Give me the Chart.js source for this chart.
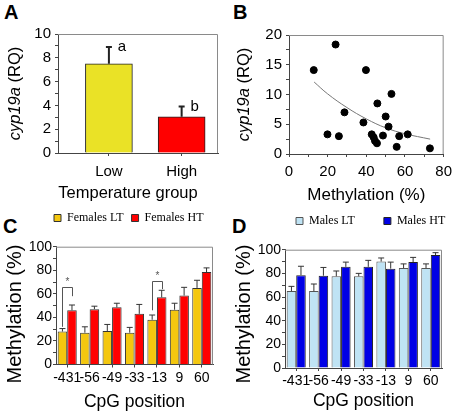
<!DOCTYPE html>
<html>
<head>
<meta charset="utf-8">
<script src="https://cdn.jsdelivr.net/npm/chart.js@4.4.1/dist/chart.umd.min.js"></script>
<style>
  html, body { margin: 0; padding: 0; background: #fff; overflow: hidden; }
  body { width: 458px; height: 418px; position: relative; }
  canvas { position: absolute; }
  .tag { position: absolute; font: bold 20px/20px 'Liberation Sans', Arial, sans-serif; color: #000; }
</style>
</head>
<body>
<div class="tag" style="left:4px;top:2px">A</div>
<div class="tag" style="left:233px;top:2px">B</div>
<div class="tag" style="left:3px;top:216px">C</div>
<div class="tag" style="left:232px;top:216px">D</div>
<canvas id="chartA" width="229" height="209" style="left:0;top:0"></canvas>
<canvas id="chartB" width="229" height="209" style="left:229px;top:0"></canvas>
<canvas id="chartC" width="229" height="209" style="left:0;top:209px"></canvas>
<canvas id="chartD" width="229" height="209" style="left:229px;top:209px"></canvas>
<script>
// A: cyp19a expression per temperature group (mean, SE)
const tempGroups = ['Low', 'High'];
const rqMean = [7.5, 3.05];
const rqSe = [1.4, 0.85];
const rqLetters = ['a', 'b'];

// B: cyp19a vs promoter methylation, one point per fish
const methPct = [12.8, 24.1, 39.8, 28.7, 38.5, 19.9, 25.8, 53.0, 45.7, 50.0,
                 51.5, 42.8, 43.8, 44.5, 45.5, 48.6, 57.0, 61.4, 55.7, 72.9];
const methRq = [14.1, 18.4, 14.1, 7.0, 5.3, 3.3, 3.0, 10.1, 8.5, 6.3,
                4.6, 3.3, 2.8, 2.2, 1.8, 3.1, 3.0, 3.3, 1.2, 0.95];
// fitted curve
const fitX = [13, 20, 30, 40, 50, 60, 73];
const fitY = [12.1, 10.1, 7.8, 5.9, 4.4, 3.4, 2.5];

// C / D: methylation per CpG site (mean, SE)
const cpgSites = ['-431', '-56', '-49', '-33', '-13', '9', '60'];
const femLT = [28, 27, 28.5, 27, 38, 46.5, 65];
const femLTSe = [2.5, 5, 5.5, 4.5, 4, 5.5, 6.5];
const femHT = [46, 47, 48.5, 43, 57, 58.5, 78.5];
const femHTSe = [4.5, 2.5, 3.5, 8, 6, 7, 3.5];
const maleLT = [65, 65, 77.5, 77.5, 90, 84.5, 84.5];
const maleLTSe = [4, 6, 4.5, 2.5, 3, 3.5, 3.5];
const maleHT = [78.5, 78, 85.5, 85.5, 84, 89.5, 95.5];
const maleHTSe = [7.5, 7, 4, 5.5, 5.5, 4, 2];

// significance brackets in C (site index, leg ends and top in %)
const sigSites = [0, 4];
const sigLegLT = [32, 46];
const sigLegHT = [58, 64];
const sigTop = [65.5, 71];

const SANS = "'Liberation Sans', Arial, sans-serif";
const SERIF = "'Liberation Serif', 'Times New Roman', serif";
Chart.defaults.font.family = SANS;
Chart.defaults.color = '#000';

const tickGrid = { display: true, drawOnChartArea: false, drawTicks: true, tickLength: 3, color: '#444', offset: false };
const axisBorder = { display: true, color: '#444', width: 1 };

// upward-only error bars, SE array kept on the dataset as `errors`
const errorBars = {
  id: 'errorBars',
  afterDatasetsDraw(chart, args, opts) {
    const ctx = chart.ctx;
    const ys = chart.scales.y;
    chart.data.datasets.forEach((ds, i) => {
      if (!ds.errors) return;
      const meta = chart.getDatasetMeta(i);
      ctx.save();
      ctx.strokeStyle = opts.color;
      ctx.lineWidth = opts.width;
      meta.data.forEach((bar, j) => {
        const v = meta.controller.getParsed(j).y;
        const top = ys.getPixelForValue(v + ds.errors[j]);
        ctx.beginPath();
        ctx.moveTo(bar.x, bar.y);
        ctx.lineTo(bar.x, top);
        ctx.moveTo(bar.x - opts.cap, top);
        ctx.lineTo(bar.x + opts.cap, top);
        ctx.stroke();
      });
      ctx.restore();
    });
  }
};

// top and right edges of the plot box
const frame = {
  id: 'frame',
  afterDatasetsDraw(chart) {
    const { ctx, chartArea: a } = chart;
    ctx.save();
    ctx.strokeStyle = '#8a8a8a';
    ctx.lineWidth = 1;
    ctx.beginPath();
    ctx.moveTo(a.left, a.top + 0.5);
    ctx.lineTo(a.right - 0.5, a.top + 0.5);
    ctx.lineTo(a.right - 0.5, a.bottom);
    ctx.stroke();
    ctx.restore();
  }
};

// axis titles with mixed italic / upright parts
function axisText(items) {
  return {
    id: 'axisText',
    afterDraw(chart) {
      const ctx = chart.ctx;
      items.forEach(it => {
        ctx.save();
        ctx.translate(it.x, it.y);
        if (it.rot) ctx.rotate(it.rot);
        ctx.fillStyle = '#000';
        ctx.textBaseline = 'middle';
        ctx.textAlign = 'left';
        const fonts = it.parts.map(p => (p.italic ? 'italic ' : '') + it.size + 'px ' + SANS);
        const widths = it.parts.map((p, k) => { ctx.font = fonts[k]; return ctx.measureText(p.text).width; });
        let x = -widths.reduce((s, w) => s + w, 0) / 2;
        it.parts.forEach((p, k) => {
          ctx.font = fonts[k];
          ctx.fillText(p.text, x, 0);
          x += widths[k];
        });
        ctx.restore();
      });
    }
  };
}

// move the legend row so the first box starts at (x, y)
function placeLegend(x, y) {
  return {
    id: 'placeLegend',
    afterLayout(chart) {
      const lg = chart.legend;
      const pad = lg.options.labels.padding;
      const w = lg.right - lg.left;
      lg.left = x - pad; lg.right = lg.left + w;
      lg.top = y - pad; lg.bottom = y + 24;
    }
  };
}

// letters a / b next to the error bars in A
const barLetters = {
  id: 'barLetters',
  afterDatasetsDraw(chart) {
    const ctx = chart.ctx;
    const meta = chart.getDatasetMeta(0);
    ctx.save();
    ctx.font = '15px ' + SANS;
    ctx.fillStyle = '#000';
    ctx.textAlign = 'center';
    ctx.textBaseline = 'middle';
    meta.data.forEach((bar, j) => {
      const y = chart.scales.y.getPixelForValue(rqMean[j] + rqSe[j]);
      ctx.fillText(rqLetters[j], bar.x + 13, y);
    });
    ctx.restore();
  }
};

// significance brackets and asterisks in C
const brackets = {
  id: 'brackets',
  afterDatasetsDraw(chart) {
    const ctx = chart.ctx;
    const ys = chart.scales.y;
    const lt = chart.getDatasetMeta(0).data;
    const ht = chart.getDatasetMeta(1).data;
    ctx.save();
    ctx.strokeStyle = '#555';
    ctx.fillStyle = '#555';
    ctx.lineWidth = 1;
    ctx.font = '10px ' + SANS;
    ctx.textAlign = 'center';
    ctx.textBaseline = 'middle';
    sigSites.forEach((s, k) => {
      const x1 = Math.round(lt[s].x) + 0.5, x2 = Math.round(ht[s].x) + 0.5;
      const top = Math.round(ys.getPixelForValue(sigTop[k])) + 0.5;
      ctx.beginPath();
      ctx.moveTo(x1, ys.getPixelForValue(sigLegLT[k]));
      ctx.lineTo(x1, top);
      ctx.lineTo(x2, top);
      ctx.lineTo(x2, ys.getPixelForValue(sigLegHT[k]));
      ctx.stroke();
      ctx.fillText('*', (x1 + x2) / 2, top - 5);
    });
    ctx.restore();
  }
};

function yTicks(step, size, pad) {
  return { stepSize: step / 2, autoSkip: false, font: { size }, padding: pad,
    callback: v => (v % step === 0 ? v : '') };
}

// ---- A ----
new Chart(document.getElementById('chartA'), {
  type: 'bar',
  data: {
    datasets: [{
      data: tempGroups.map((g, i) => ({ x: i, y: rqMean[i] })),
      errors: rqSe,
      backgroundColor: ['#EAE226', '#FF0000'],
      borderColor: '#222',
      borderWidth: 1,
      barThickness: 47
    }]
  },
  options: {
    responsive: false,
    animation: false,
    layout: { padding: { top: 34, right: 11, left: 0, bottom: 0 } },
    plugins: {
      legend: { display: false },
      tooltip: { enabled: false },
      errorBars: { color: '#222', width: 2, cap: 3 }
    },
    scales: {
      x: {
        type: 'linear', min: -0.7, max: 1.5, offset: false,
        grid: tickGrid, border: axisBorder,
        afterBuildTicks: s => { s.ticks = tempGroups.map((g, i) => ({ value: i })); },
        ticks: { callback: v => tempGroups[v], font: { size: 15 }, padding: 7, maxRotation: 0 },
        afterFit: s => { s.height = 56; }
      },
      y: {
        min: 0, max: 10,
        grid: tickGrid, border: axisBorder,
        ticks: yTicks(2, 15, 4),
        afterFit: s => { s.width = 58; }
      }
    }
  },
  plugins: [errorBars, barLetters, frame, axisText([
    { parts: [{ text: 'cyp19a', italic: true }, { text: ' (RQ)' }], x: 15, y: 93.5, rot: -Math.PI / 2, size: 16.5 },
    { parts: [{ text: 'Temperature group' }], x: 128, y: 193, size: 16.5 }
  ])]
});

// ---- B ----
new Chart(document.getElementById('chartB'), {
  type: 'scatter',
  data: {
    datasets: [
      {
        data: methPct.map((x, i) => ({ x, y: methRq[i] })),
        backgroundColor: '#000', borderColor: '#000', pointRadius: 3.5
      },
      {
        type: 'line',
        data: fitX.map((x, i) => ({ x, y: fitY[i] })),
        borderColor: '#777', borderWidth: 1, pointRadius: 0, tension: 0.4, fill: false
      }
    ]
  },
  options: {
    responsive: false,
    animation: false,
    layout: { padding: { top: 35, right: 11, left: 0, bottom: 0 } },
    plugins: { legend: { display: false }, tooltip: { enabled: false } },
    scales: {
      x: {
        type: 'linear', min: 0, max: 80,
        grid: tickGrid, border: axisBorder,
        ticks: { stepSize: 10, autoSkip: false, maxRotation: 0, font: { size: 15 }, padding: 6,
          callback: v => (v % 20 === 0 ? v : '') },
        title: { display: true, text: 'Methylation (%)', font: { size: 17 }, padding: { top: 0, bottom: 3 } },
        afterFit: s => { s.height = 55; }
      },
      y: {
        min: 0, max: 20,
        grid: tickGrid, border: axisBorder,
        ticks: yTicks(5, 15, 4),
        afterFit: s => { s.width = 60; }
      }
    }
  },
  plugins: [frame, axisText([
    { parts: [{ text: 'cyp19a', italic: true }, { text: ' (RQ)' }], x: 15, y: 94.5, rot: -Math.PI / 2, size: 16.5 }
  ])]
});

// ---- C / D ----
function methChart(id, labels, ltVals, ltSe, htVals, htSe, colors, layout, extra) {
  return new Chart(document.getElementById(id), {
    type: 'bar',
    data: {
      labels: cpgSites,
      datasets: [
        { label: labels[0], data: ltVals, errors: ltSe, backgroundColor: colors[0], borderColor: colors[2], borderWidth: 1 },
        { label: labels[1], data: htVals, errors: htSe, backgroundColor: colors[1], borderColor: colors[3], borderWidth: 1 }
      ]
    },
    options: {
      responsive: false,
      animation: false,
      categoryPercentage: 0.85,
      barPercentage: 1.0,
      layout: { padding: { top: layout.padTop, right: 16, left: 0, bottom: 0 } },
      plugins: {
        legend: {
          display: true, align: 'start', maxHeight: 30,
          labels: { boxWidth: 7, boxHeight: 7, padding: layout.legendPad, color: '#000', font: { family: SERIF, size: 12 } }
        },
        tooltip: { enabled: false },
        errorBars: { color: '#333', width: 1, cap: 3 }
      },
      scales: {
        x: {
          grid: tickGrid, border: axisBorder,
          ticks: { autoSkip: false, maxRotation: 0, minRotation: 0, font: { size: 14 }, padding: 2 },
          title: { display: true, text: 'CpG position', font: { size: 17.5 }, padding: { top: 0, bottom: layout.titlePad } },
          afterFit: s => { s.height = layout.xHeight; }
        },
        y: {
          min: 0, max: 100,
          grid: tickGrid, border: axisBorder,
          ticks: yTicks(20, 14, 1),
          afterFit: s => { s.width = 56; }
        }
      }
    },
    plugins: [errorBars, frame, placeLegend(layout.legendX, layout.legendY), axisText([
      { parts: [{ text: 'Methylation (%)' }], x: 15, y: layout.yTitle, rot: -Math.PI / 2, size: 20 }
    ])].concat(extra)
  });
}

methChart('chartC', ['Females LT', 'Females HT'], femLT, femLTSe, femHT, femHTSe,
  ['#F4C70F', '#FF0000', '#333', '#333'],
  { padTop: 7.7, xHeight: 53.5, legendPad: 8, legendX: 54, legendY: 3, titlePad: 5, yTitle: 105 },
  [brackets]);
methChart('chartD', ['Males LT', 'Males HT'], maleLT, maleLTSe, maleHT, maleHTSe,
  ['#BFE3F4', '#0000E6', '#555', '#222'],
  { padTop: 10.7, xHeight: 50, legendPad: 29, legendX: 67, legendY: 6, titlePad: 6, yTitle: 105 },
  []);
</script>
</body>
</html>
